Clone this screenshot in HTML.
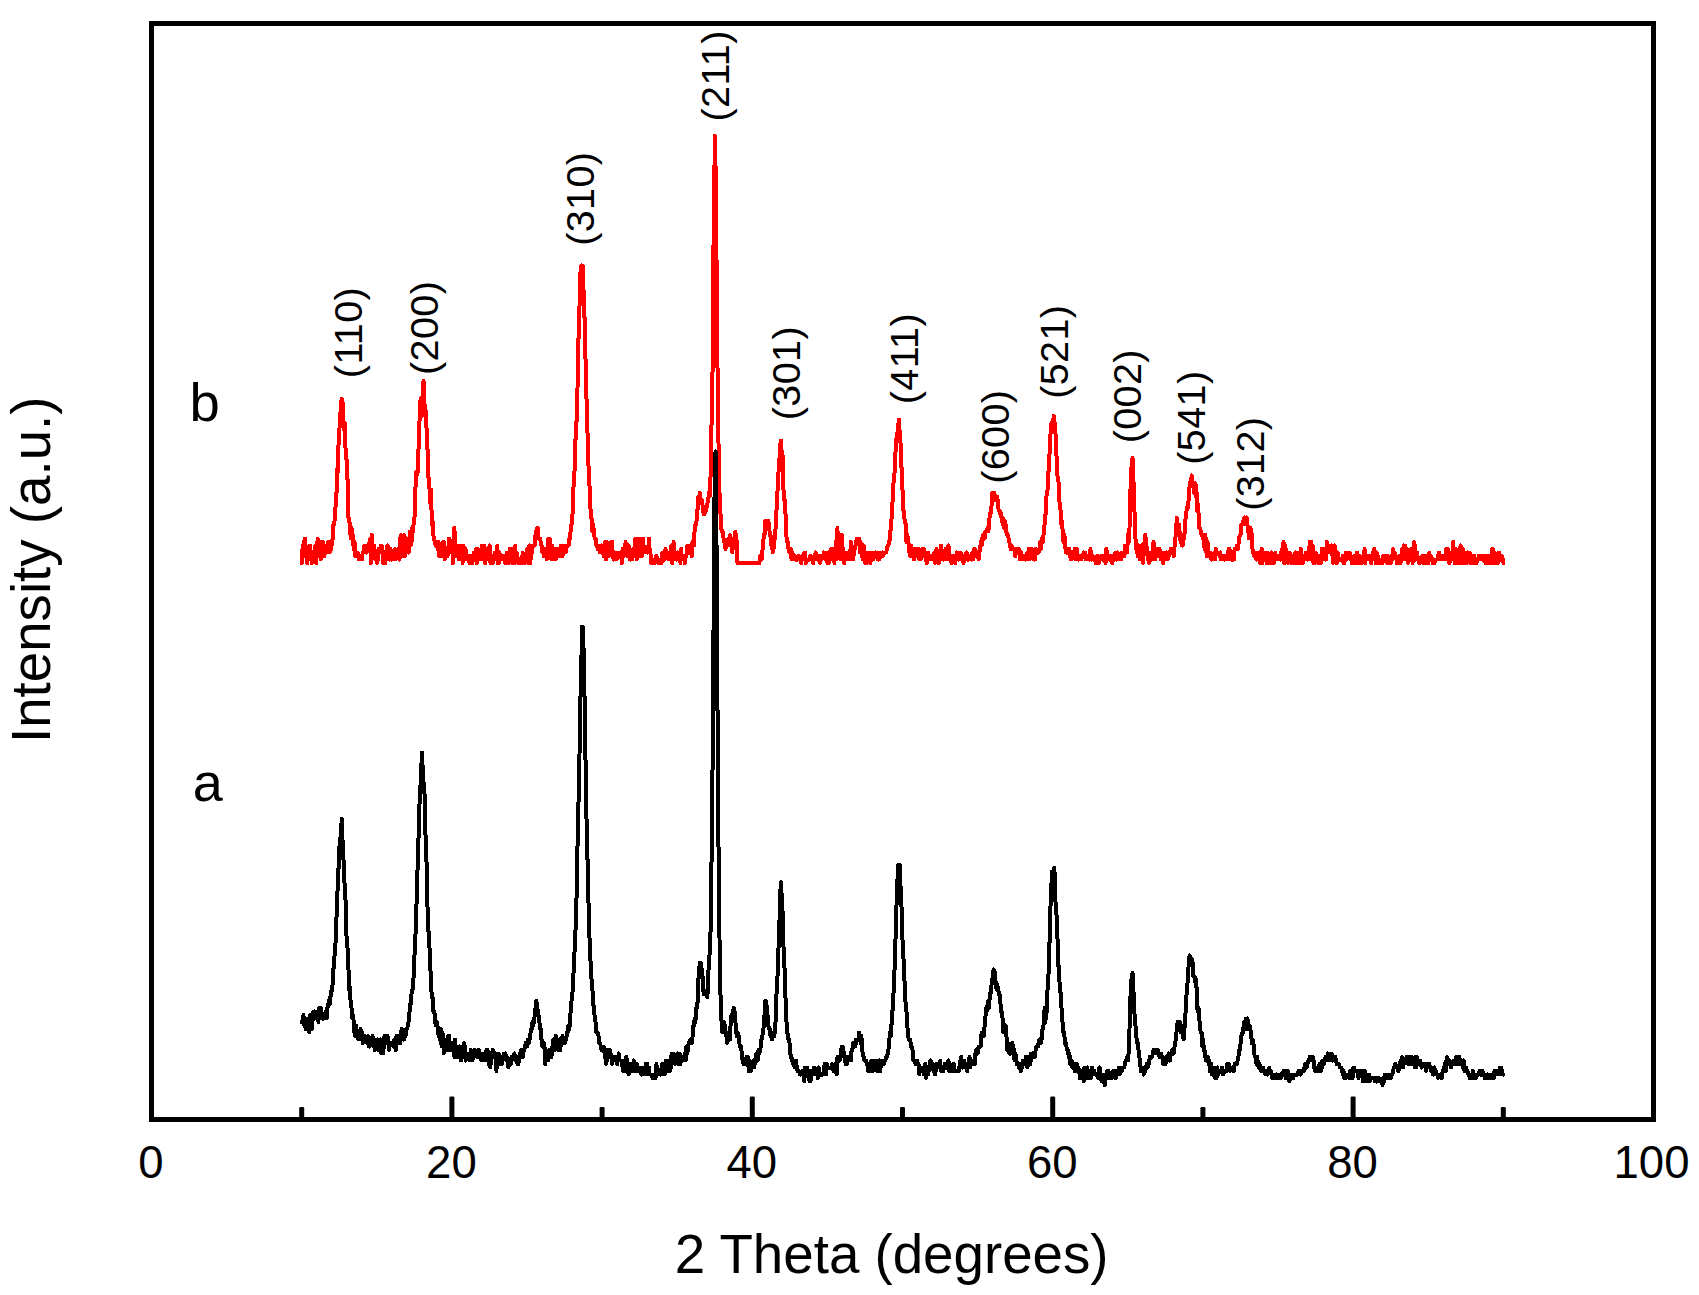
<!DOCTYPE html>
<html lang="en">
<head>
<meta charset="utf-8">
<title>XRD patterns</title>
<style>
html,body{margin:0;padding:0;background:#fff;}
body{width:1699px;height:1295px;overflow:hidden;}
svg{display:block;}
</style>
</head>
<body>
<svg width="1699" height="1295" viewBox="0 0 1699 1295">
<rect x="0" y="0" width="1699" height="1295" fill="#fff"/>
<g fill="none" stroke-linejoin="round" stroke-linecap="round" stroke-width="4" shape-rendering="crispEdges">
<path stroke="#ff0000" d="M301.9 563.0L302.7 545.5L303.4 556.0L304.2 542.0L304.9 538.5L305.7 549.0L306.4 549.0L307.2 563.0L307.9 556.0L308.7 552.5L309.4 545.5L310.2 545.5L310.9 556.0L311.7 563.0L312.4 559.5
L313.2 552.5L313.9 559.5L314.7 556.0L315.4 545.5L316.2 563.0L316.9 549.0L317.7 538.5L318.4 556.0L319.2 549.0L319.9 542.0L320.7 559.5L321.4 549.0L322.2 542.0L322.9 542.0L323.7 549.0
L324.4 556.0L325.2 545.5L325.9 552.5L326.7 549.0L327.4 552.5L328.2 542.0L328.9 545.5L329.7 552.5L330.4 549.0L331.2 549.0L331.9 542.0L332.7 538.5L333.4 524.5L334.2 524.5L334.9 517.5
L335.7 503.5L336.4 496.5L337.2 468.5L337.9 472.0L338.7 437.0L339.4 430.0L340.2 416.0L341.0 405.5L341.7 398.5L342.5 402.0L343.2 419.5L344.0 430.0L344.7 423.0L345.5 447.5L346.2 458.0
L347.0 461.5L347.7 486.0L348.5 517.5L349.2 521.0L350.0 524.5L350.7 538.5L351.5 528.0L352.2 531.5L353.0 538.5L353.7 549.0L354.5 542.0L355.2 556.0L356.0 552.5L356.7 552.5L357.5 552.5
L358.2 556.0L359.0 559.5L359.7 556.0L360.5 556.0L361.2 556.0L362.0 559.5L362.7 552.5L363.5 552.5L364.2 545.5L365.0 545.5L365.7 549.0L366.5 552.5L367.2 549.0L368.0 549.0L368.7 549.0
L369.5 542.0L370.2 538.5L371.0 563.0L371.7 535.0L372.5 556.0L373.2 552.5L374.0 545.5L374.7 552.5L375.5 559.5L376.2 552.5L377.0 563.0L377.8 559.5L378.5 549.0L379.3 552.5L380.0 549.0
L380.8 545.5L381.5 545.5L382.3 549.0L383.0 563.0L383.8 556.0L384.5 556.0L385.3 563.0L386.0 552.5L386.8 549.0L387.5 545.5L388.3 549.0L389.0 559.5L389.8 559.5L390.5 549.0L391.3 559.5
L392.0 559.5L392.8 552.5L393.5 559.5L394.3 552.5L395.0 549.0L395.8 559.5L396.5 556.0L397.3 552.5L398.0 549.0L398.8 556.0L399.5 559.5L400.3 538.5L401.0 535.0L401.8 556.0L402.5 549.0
L403.3 538.5L404.0 535.0L404.8 556.0L405.5 542.0L406.3 538.5L407.0 542.0L407.8 552.5L408.5 552.5L409.3 545.5L410.0 531.5L410.8 545.5L411.5 542.0L412.3 528.0L413.0 531.5L413.8 521.0
L414.5 517.5L415.3 493.0L416.1 472.0L416.8 475.5L417.6 472.0L418.3 454.5L419.1 433.5L419.8 412.5L420.6 398.5L421.3 412.5L422.1 416.0L422.8 384.5L423.6 381.0L424.3 405.5L425.1 405.5
L425.8 412.5L426.6 430.0L427.3 440.5L428.1 475.5L428.8 479.0L429.6 489.5L430.3 503.5L431.1 489.5L431.8 524.5L432.6 521.0L433.3 535.0L434.1 538.5L434.8 542.0L435.6 545.5L436.3 542.0
L437.1 545.5L437.8 549.0L438.6 542.0L439.3 556.0L440.1 556.0L440.8 549.0L441.6 549.0L442.3 556.0L443.1 542.0L443.8 542.0L444.6 559.5L445.3 552.5L446.1 556.0L446.8 549.0L447.6 556.0
L448.3 549.0L449.1 538.5L449.8 552.5L450.6 545.5L451.3 549.0L452.1 542.0L452.9 563.0L453.6 535.0L454.4 528.0L455.1 545.5L455.9 556.0L456.6 545.5L457.4 549.0L458.1 552.5L458.9 559.5
L459.6 545.5L460.4 545.5L461.1 552.5L461.9 549.0L462.6 563.0L463.4 545.5L464.1 549.0L464.9 552.5L465.6 549.0L466.4 559.5L467.1 556.0L467.9 559.5L468.6 556.0L469.4 563.0L470.1 556.0
L470.9 559.5L471.6 559.5L472.4 563.0L473.1 556.0L473.9 552.5L474.6 556.0L475.4 559.5L476.1 549.0L476.9 563.0L477.6 549.0L478.4 552.5L479.1 559.5L479.9 556.0L480.6 556.0L481.4 559.5
L482.1 545.5L482.9 556.0L483.6 545.5L484.4 545.5L485.1 563.0L485.9 549.0L486.6 559.5L487.4 549.0L488.1 552.5L488.9 552.5L489.6 545.5L490.4 563.0L491.2 556.0L491.9 559.5L492.7 563.0
L493.4 556.0L494.2 559.5L494.9 552.5L495.7 556.0L496.4 559.5L497.2 545.5L497.9 563.0L498.7 563.0L499.4 552.5L500.2 559.5L500.9 559.5L501.7 556.0L502.4 559.5L503.2 556.0L503.9 556.0
L504.7 559.5L505.4 563.0L506.2 559.5L506.9 552.5L507.7 556.0L508.4 563.0L509.2 559.5L509.9 549.0L510.7 559.5L511.4 549.0L512.2 563.0L512.9 549.0L513.7 556.0L514.4 563.0L515.2 545.5
L515.9 559.5L516.7 552.5L517.4 556.0L518.2 563.0L518.9 563.0L519.7 563.0L520.4 563.0L521.2 563.0L521.9 563.0L522.7 552.5L523.4 563.0L524.2 556.0L524.9 563.0L525.7 559.5L526.4 552.5
L527.2 549.0L528.0 556.0L528.7 563.0L529.5 545.5L530.2 563.0L531.0 556.0L531.7 552.5L532.5 545.5L533.2 545.5L534.0 545.5L534.7 545.5L535.5 535.0L536.2 531.5L537.0 528.0L537.7 528.0
L538.5 538.5L539.2 538.5L540.0 538.5L540.7 542.0L541.5 545.5L542.2 552.5L543.0 549.0L543.7 556.0L544.5 549.0L545.2 556.0L546.0 552.5L546.7 559.5L547.5 556.0L548.2 538.5L549.0 552.5
L549.7 538.5L550.5 549.0L551.2 559.5L552.0 545.5L552.7 559.5L553.5 549.0L554.2 559.5L555.0 549.0L555.7 559.5L556.5 556.0L557.2 549.0L558.0 556.0L558.7 552.5L559.5 549.0L560.2 556.0
L561.0 545.5L561.7 545.5L562.5 556.0L563.2 549.0L564.0 552.5L564.7 545.5L565.5 552.5L566.3 549.0L567.0 545.5L567.8 545.5L568.5 545.5L569.3 538.5L570.0 538.5L570.8 528.0L571.5 524.5
L572.3 521.0L573.0 496.5L573.8 482.5L574.5 472.0L575.3 440.5L576.0 437.0L576.8 412.5L577.5 388.0L578.3 346.0L579.0 321.5L579.8 297.0L580.5 272.5L581.3 265.5L582.0 272.5L582.8 265.5
L583.5 290.0L584.3 311.0L585.0 332.0L585.8 374.0L586.5 398.5L587.3 423.0L588.0 454.5L588.8 472.0L589.5 486.0L590.3 507.0L591.0 514.0L591.8 521.0L592.5 531.5L593.3 524.5L594.0 535.0
L594.8 538.5L595.5 538.5L596.3 545.5L597.0 545.5L597.8 549.0L598.5 545.5L599.3 545.5L600.0 552.5L600.8 549.0L601.5 545.5L602.3 549.0L603.1 552.5L603.8 556.0L604.6 552.5L605.3 542.0
L606.1 559.5L606.8 542.0L607.6 545.5L608.3 556.0L609.1 556.0L609.8 552.5L610.6 545.5L611.3 542.0L612.1 542.0L612.8 556.0L613.6 559.5L614.3 552.5L615.1 552.5L615.8 552.5L616.6 559.5
L617.3 556.0L618.1 552.5L618.8 552.5L619.6 556.0L620.3 556.0L621.1 552.5L621.8 563.0L622.6 549.0L623.3 556.0L624.1 556.0L624.8 552.5L625.6 542.0L626.3 549.0L627.1 556.0L627.8 556.0
L628.6 545.5L629.3 549.0L630.1 559.5L630.8 559.5L631.6 556.0L632.3 559.5L633.1 549.0L633.8 556.0L634.6 545.5L635.3 538.5L636.1 538.5L636.8 559.5L637.6 556.0L638.3 549.0L639.1 538.5
L639.8 549.0L640.6 556.0L641.4 552.5L642.1 556.0L642.9 538.5L643.6 545.5L644.4 552.5L645.1 549.0L645.9 552.5L646.6 549.0L647.4 552.5L648.1 552.5L648.9 538.5L649.6 549.0L650.4 552.5
L651.1 563.0L651.9 559.5L652.6 559.5L653.4 563.0L654.1 559.5L654.9 563.0L655.6 559.5L656.4 556.0L657.1 559.5L657.9 559.5L658.6 563.0L659.4 563.0L660.1 563.0L660.9 563.0L661.6 563.0
L662.4 552.5L663.1 552.5L663.9 559.5L664.6 559.5L665.4 549.0L666.1 552.5L666.9 556.0L667.6 556.0L668.4 559.5L669.1 552.5L669.9 552.5L670.6 556.0L671.4 545.5L672.1 563.0L672.9 549.0
L673.6 542.0L674.4 559.5L675.1 556.0L675.9 556.0L676.6 559.5L677.4 552.5L678.2 556.0L678.9 556.0L679.7 552.5L680.4 563.0L681.2 549.0L681.9 559.5L682.7 556.0L683.4 556.0L684.2 556.0
L684.9 563.0L685.7 556.0L686.4 556.0L687.2 545.5L687.9 545.5L688.7 552.5L689.4 545.5L690.2 545.5L690.9 552.5L691.7 556.0L692.4 542.0L693.2 545.5L693.9 545.5L694.7 528.0L695.4 524.5
L696.2 524.5L696.9 517.5L697.7 507.0L698.4 496.5L699.2 496.5L699.9 493.0L700.7 500.0L701.4 503.5L702.2 500.0L702.9 510.5L703.7 514.0L704.4 514.0L705.2 510.5L705.9 510.5L706.7 507.0
L707.4 503.5L708.2 500.0L708.9 493.0L709.7 496.5L710.4 482.5L711.2 444.0L711.9 402.0L712.7 363.5L713.4 255.0L714.2 188.5L714.9 136.0L715.7 174.5L716.5 258.5L717.2 346.0L718.0 402.0
L718.7 458.0L719.5 493.0L720.2 507.0L721.0 524.5L721.7 531.5L722.5 531.5L723.2 535.0L724.0 542.0L724.7 542.0L725.5 549.0L726.2 542.0L727.0 545.5L727.7 545.5L728.5 538.5L729.2 538.5
L730.0 535.0L730.7 545.5L731.5 538.5L732.2 552.5L733.0 545.5L733.7 545.5L734.5 542.0L735.2 531.5L736.0 535.0L736.7 542.0L737.5 563.0L738.2 563.0L739.0 563.0L739.7 563.0L740.5 563.0
L741.2 563.0L742.0 563.0L742.7 563.0L743.5 563.0L744.2 563.0L745.0 563.0L745.7 563.0L746.5 563.0L747.2 563.0L748.0 563.0L748.7 563.0L749.5 563.0L750.2 563.0L751.0 563.0L751.7 563.0
L752.5 563.0L753.3 563.0L754.0 563.0L754.8 563.0L755.5 563.0L756.3 563.0L757.0 563.0L757.8 563.0L758.5 563.0L759.3 563.0L760.0 556.0L760.8 556.0L761.5 559.5L762.3 552.5L763.0 545.5
L763.8 535.0L764.5 535.0L765.3 521.0L766.0 524.5L766.8 521.0L767.5 524.5L768.3 521.0L769.0 524.5L769.8 535.0L770.5 535.0L771.3 545.5L772.0 545.5L772.8 552.5L773.5 549.0L774.3 538.5
L775.0 538.5L775.8 524.5L776.5 510.5L777.3 496.5L778.0 479.0L778.8 468.5L779.5 458.0L780.3 444.0L781.0 440.5L781.8 454.5L782.5 454.5L783.3 486.0L784.0 500.0L784.8 500.0L785.5 514.0
L786.3 535.0L787.0 542.0L787.8 542.0L788.5 549.0L789.3 552.5L790.0 552.5L790.8 549.0L791.6 559.5L792.3 552.5L793.1 556.0L793.8 559.5L794.6 556.0L795.3 559.5L796.1 559.5L796.8 559.5
L797.6 559.5L798.3 556.0L799.1 556.0L799.8 559.5L800.6 559.5L801.3 563.0L802.1 556.0L802.8 559.5L803.6 556.0L804.3 552.5L805.1 552.5L805.8 563.0L806.6 559.5L807.3 559.5L808.1 559.5
L808.8 559.5L809.6 559.5L810.3 556.0L811.1 559.5L811.8 559.5L812.6 559.5L813.3 563.0L814.1 556.0L814.8 559.5L815.6 552.5L816.3 556.0L817.1 559.5L817.8 559.5L818.6 556.0L819.3 556.0
L820.1 563.0L820.8 556.0L821.6 559.5L822.3 556.0L823.1 556.0L823.8 552.5L824.6 556.0L825.3 552.5L826.1 559.5L826.8 559.5L827.6 563.0L828.4 552.5L829.1 563.0L829.9 556.0L830.6 556.0
L831.4 549.0L832.1 556.0L832.9 559.5L833.6 552.5L834.4 563.0L835.1 552.5L835.9 542.0L836.6 559.5L837.4 528.0L838.1 545.5L838.9 552.5L839.6 535.0L840.4 559.5L841.1 552.5L841.9 535.0
L842.6 559.5L843.4 549.0L844.1 563.0L844.9 552.5L845.6 552.5L846.4 559.5L847.1 556.0L847.9 552.5L848.6 552.5L849.4 559.5L850.1 556.0L850.9 542.0L851.6 556.0L852.4 549.0L853.1 559.5
L853.9 552.5L854.6 549.0L855.4 545.5L856.1 542.0L856.9 538.5L857.6 542.0L858.4 542.0L859.1 538.5L859.9 552.5L860.6 542.0L861.4 552.5L862.1 556.0L862.9 559.5L863.6 545.5L864.4 552.5
L865.1 563.0L865.9 552.5L866.7 563.0L867.4 559.5L868.2 552.5L868.9 552.5L869.7 559.5L870.4 563.0L871.2 552.5L871.9 552.5L872.7 556.0L873.4 559.5L874.2 556.0L874.9 556.0L875.7 552.5
L876.4 556.0L877.2 552.5L877.9 559.5L878.7 559.5L879.4 559.5L880.2 556.0L880.9 552.5L881.7 556.0L882.4 552.5L883.2 556.0L883.9 552.5L884.7 552.5L885.4 552.5L886.2 552.5L886.9 549.0
L887.7 545.5L888.4 545.5L889.2 542.0L889.9 538.5L890.7 528.0L891.4 521.0L892.2 507.0L892.9 496.5L893.7 479.0L894.4 475.5L895.2 461.5L895.9 440.5L896.7 437.0L897.4 433.5L898.2 426.5
L898.9 419.5L899.7 433.5L900.4 440.5L901.2 458.0L901.9 479.0L902.7 493.0L903.5 510.5L904.2 517.5L905.0 521.0L905.7 524.5L906.5 542.0L907.2 535.0L908.0 538.5L908.7 545.5L909.5 552.5
L910.2 556.0L911.0 545.5L911.7 549.0L912.5 552.5L913.2 556.0L914.0 559.5L914.7 549.0L915.5 549.0L916.2 549.0L917.0 552.5L917.7 556.0L918.5 549.0L919.2 559.5L920.0 552.5L920.7 559.5
L921.5 556.0L922.2 549.0L923.0 556.0L923.7 549.0L924.5 552.5L925.2 556.0L926.0 559.5L926.7 563.0L927.5 552.5L928.2 552.5L929.0 559.5L929.7 556.0L930.5 556.0L931.2 559.5L932.0 556.0
L932.7 556.0L933.5 559.5L934.2 552.5L935.0 563.0L935.7 552.5L936.5 549.0L937.2 559.5L938.0 563.0L938.7 563.0L939.5 559.5L940.2 559.5L941.0 545.5L941.8 556.0L942.5 552.5L943.3 559.5
L944.0 559.5L944.8 552.5L945.5 549.0L946.3 559.5L947.0 556.0L947.8 552.5L948.5 545.5L949.3 559.5L950.0 556.0L950.8 556.0L951.5 563.0L952.3 556.0L953.0 556.0L953.8 559.5L954.5 559.5
L955.3 563.0L956.0 556.0L956.8 552.5L957.5 556.0L958.3 559.5L959.0 559.5L959.8 552.5L960.5 552.5L961.3 559.5L962.0 559.5L962.8 559.5L963.5 563.0L964.3 556.0L965.0 559.5L965.8 559.5
L966.5 552.5L967.3 559.5L968.0 559.5L968.8 559.5L969.5 556.0L970.3 559.5L971.0 556.0L971.8 559.5L972.5 552.5L973.3 559.5L974.0 549.0L974.8 549.0L975.5 556.0L976.3 556.0L977.0 556.0
L977.8 552.5L978.6 559.5L979.3 552.5L980.1 549.0L980.8 542.0L981.6 545.5L982.3 538.5L983.1 535.0L983.8 538.5L984.6 538.5L985.3 531.5L986.1 531.5L986.8 531.5L987.6 528.0L988.3 531.5
L989.1 524.5L989.8 514.0L990.6 514.0L991.3 510.5L992.1 493.0L992.8 500.0L993.6 500.0L994.3 493.0L995.1 496.5L995.8 500.0L996.6 496.5L997.3 496.5L998.1 507.0L998.8 510.5L999.6 510.5
L1000.3 514.0L1001.1 514.0L1001.8 521.0L1002.6 517.5L1003.3 524.5L1004.1 528.0L1004.8 521.0L1005.6 524.5L1006.3 531.5L1007.1 535.0L1007.8 535.0L1008.6 538.5L1009.3 542.0
L1010.1 545.5L1010.8 549.0L1011.6 545.5L1012.3 549.0L1013.1 549.0L1013.8 549.0L1014.6 549.0L1015.3 556.0L1016.1 552.5L1016.9 549.0L1017.6 549.0L1018.4 552.5L1019.1 549.0
L1019.9 559.5L1020.6 556.0L1021.4 552.5L1022.1 559.5L1022.9 556.0L1023.6 556.0L1024.4 556.0L1025.1 559.5L1025.9 559.5L1026.6 556.0L1027.4 552.5L1028.1 556.0L1028.9 549.0
L1029.6 559.5L1030.4 552.5L1031.1 549.0L1031.9 549.0L1032.6 556.0L1033.4 556.0L1034.1 559.5L1034.9 559.5L1035.6 549.0L1036.4 552.5L1037.1 552.5L1037.9 552.5L1038.6 552.5
L1039.4 549.0L1040.1 542.0L1040.9 549.0L1041.6 538.5L1042.4 538.5L1043.1 542.0L1043.9 528.0L1044.6 524.5L1045.4 517.5L1046.1 500.0L1046.9 493.0L1047.6 489.5L1048.4 472.0
L1049.1 468.5L1049.9 440.5L1050.6 433.5L1051.4 423.0L1052.1 430.0L1052.9 426.5L1053.7 416.0L1054.4 426.5L1055.2 423.0L1055.9 447.5L1056.7 458.0L1057.4 475.5L1058.2 479.0
L1058.9 486.0L1059.7 507.0L1060.4 507.0L1061.2 524.5L1061.9 521.0L1062.7 531.5L1063.4 542.0L1064.2 535.0L1064.9 538.5L1065.7 552.5L1066.4 552.5L1067.2 552.5L1067.9 552.5
L1068.7 549.0L1069.4 549.0L1070.2 556.0L1070.9 559.5L1071.7 552.5L1072.4 556.0L1073.2 556.0L1073.9 556.0L1074.7 549.0L1075.4 559.5L1076.2 556.0L1076.9 549.0L1077.7 559.5
L1078.4 559.5L1079.2 559.5L1079.9 556.0L1080.7 559.5L1081.4 559.5L1082.2 556.0L1082.9 556.0L1083.7 552.5L1084.4 556.0L1085.2 552.5L1085.9 559.5L1086.7 556.0L1087.4 556.0
L1088.2 556.0L1088.9 559.5L1089.7 559.5L1090.4 549.0L1091.2 559.5L1092.0 559.5L1092.7 556.0L1093.5 559.5L1094.2 559.5L1095.0 559.5L1095.7 563.0L1096.5 563.0L1097.2 556.0
L1098.0 559.5L1098.7 563.0L1099.5 559.5L1100.2 559.5L1101.0 556.0L1101.7 559.5L1102.5 559.5L1103.2 556.0L1104.0 559.5L1104.7 556.0L1105.5 563.0L1106.2 549.0L1107.0 552.5
L1107.7 556.0L1108.5 556.0L1109.2 559.5L1110.0 559.5L1110.7 556.0L1111.5 556.0L1112.2 563.0L1113.0 559.5L1113.7 556.0L1114.5 559.5L1115.2 552.5L1116.0 556.0L1116.7 559.5
L1117.5 552.5L1118.2 559.5L1119.0 556.0L1119.7 556.0L1120.5 556.0L1121.2 559.5L1122.0 552.5L1122.7 552.5L1123.5 556.0L1124.2 556.0L1125.0 545.5L1125.7 549.0L1126.5 552.5
L1127.2 552.5L1128.0 535.0L1128.8 542.0L1129.5 528.0L1130.3 496.5L1131.0 472.0L1131.8 465.0L1132.5 458.0L1133.3 475.5L1134.0 496.5L1134.8 521.0L1135.5 538.5L1136.3 549.0
L1137.0 549.0L1137.8 556.0L1138.5 545.5L1139.3 552.5L1140.0 559.5L1140.8 549.0L1141.5 545.5L1142.3 552.5L1143.0 563.0L1143.8 545.5L1144.5 542.0L1145.3 535.0L1146.0 542.0
L1146.8 549.0L1147.5 556.0L1148.3 559.5L1149.0 563.0L1149.8 552.5L1150.5 556.0L1151.3 559.5L1152.0 559.5L1152.8 556.0L1153.5 542.0L1154.3 556.0L1155.0 559.5L1155.8 556.0
L1156.5 556.0L1157.3 549.0L1158.0 552.5L1158.8 556.0L1159.5 549.0L1160.3 552.5L1161.0 559.5L1161.8 559.5L1162.5 556.0L1163.3 563.0L1164.0 552.5L1164.8 552.5L1165.5 559.5
L1166.3 552.5L1167.1 556.0L1167.8 559.5L1168.6 556.0L1169.3 552.5L1170.1 552.5L1170.8 549.0L1171.6 549.0L1172.3 552.5L1173.1 552.5L1173.8 556.0L1174.6 545.5L1175.3 538.5
L1176.1 531.5L1176.8 517.5L1177.6 524.5L1178.3 528.0L1179.1 524.5L1179.8 535.0L1180.6 542.0L1181.3 538.5L1182.1 545.5L1182.8 545.5L1183.6 535.0L1184.3 538.5L1185.1 521.0
L1185.8 517.5L1186.6 510.5L1187.3 507.0L1188.1 507.0L1188.8 496.5L1189.6 486.0L1190.3 482.5L1191.1 479.0L1191.8 475.5L1192.6 482.5L1193.3 486.0L1194.1 493.0L1194.8 482.5
L1195.6 496.5L1196.3 486.0L1197.1 510.5L1197.8 503.5L1198.6 514.0L1199.3 528.0L1200.1 528.0L1200.8 531.5L1201.6 535.0L1202.3 535.0L1203.1 538.5L1203.9 538.5L1204.6 549.0
L1205.4 535.0L1206.1 549.0L1206.9 556.0L1207.6 542.0L1208.4 556.0L1209.1 556.0L1209.9 552.5L1210.6 552.5L1211.4 559.5L1212.1 559.5L1212.9 556.0L1213.6 556.0L1214.4 552.5
L1215.1 559.5L1215.9 549.0L1216.6 552.5L1217.4 552.5L1218.1 552.5L1218.9 552.5L1219.6 556.0L1220.4 552.5L1221.1 559.5L1221.9 556.0L1222.6 556.0L1223.4 556.0L1224.1 559.5
L1224.9 559.5L1225.6 556.0L1226.4 556.0L1227.1 559.5L1227.9 556.0L1228.6 549.0L1229.4 549.0L1230.1 552.5L1230.9 559.5L1231.6 559.5L1232.4 559.5L1233.1 559.5L1233.9 559.5
L1234.6 549.0L1235.4 549.0L1236.1 549.0L1236.9 545.5L1237.6 549.0L1238.4 545.5L1239.1 538.5L1239.9 535.0L1240.6 535.0L1241.4 524.5L1242.2 524.5L1242.9 521.0L1243.7 521.0
L1244.4 517.5L1245.2 524.5L1245.9 521.0L1246.7 517.5L1247.4 524.5L1248.2 528.0L1248.9 538.5L1249.7 535.0L1250.4 528.0L1251.2 531.5L1251.9 535.0L1252.7 552.5L1253.4 552.5
L1254.2 556.0L1254.9 552.5L1255.7 556.0L1256.4 559.5L1257.2 559.5L1257.9 552.5L1258.7 556.0L1259.4 552.5L1260.2 563.0L1260.9 563.0L1261.7 549.0L1262.4 563.0L1263.2 552.5
L1263.9 552.5L1264.7 559.5L1265.4 559.5L1266.2 552.5L1266.9 563.0L1267.7 552.5L1268.4 563.0L1269.2 563.0L1269.9 556.0L1270.7 563.0L1271.4 552.5L1272.2 559.5L1272.9 563.0
L1273.7 563.0L1274.4 559.5L1275.2 552.5L1275.9 559.5L1276.7 556.0L1277.4 556.0L1278.2 556.0L1279.0 556.0L1279.7 559.5L1280.5 559.5L1281.2 552.5L1282.0 549.0L1282.7 556.0
L1283.5 542.0L1284.2 563.0L1285.0 545.5L1285.7 549.0L1286.5 556.0L1287.2 552.5L1288.0 563.0L1288.7 552.5L1289.5 552.5L1290.2 556.0L1291.0 556.0L1291.7 563.0L1292.5 556.0
L1293.2 559.5L1294.0 556.0L1294.7 563.0L1295.5 552.5L1296.2 559.5L1297.0 552.5L1297.7 563.0L1298.5 563.0L1299.2 563.0L1300.0 559.5L1300.7 549.0L1301.5 563.0L1302.2 556.0
L1303.0 563.0L1303.7 556.0L1304.5 559.5L1305.2 559.5L1306.0 552.5L1306.7 556.0L1307.5 559.5L1308.2 552.5L1309.0 559.5L1309.7 542.0L1310.5 556.0L1311.2 542.0L1312.0 559.5
L1312.7 545.5L1313.5 563.0L1314.2 563.0L1315.0 563.0L1315.7 552.5L1316.5 559.5L1317.3 559.5L1318.0 556.0L1318.8 563.0L1319.5 556.0L1320.3 559.5L1321.0 563.0L1321.8 549.0
L1322.5 559.5L1323.3 559.5L1324.0 552.5L1324.8 549.0L1325.5 559.5L1326.3 559.5L1327.0 542.0L1327.8 552.5L1328.5 549.0L1329.3 552.5L1330.0 545.5L1330.8 552.5L1331.5 545.5
L1332.3 552.5L1333.0 563.0L1333.8 552.5L1334.5 545.5L1335.3 552.5L1336.0 556.0L1336.8 563.0L1337.5 552.5L1338.3 556.0L1339.0 559.5L1339.8 559.5L1340.5 559.5L1341.3 559.5
L1342.0 559.5L1342.8 556.0L1343.5 563.0L1344.3 563.0L1345.0 559.5L1345.8 552.5L1346.5 559.5L1347.3 556.0L1348.0 552.5L1348.8 552.5L1349.5 552.5L1350.3 556.0L1351.0 556.0
L1351.8 563.0L1352.5 563.0L1353.3 563.0L1354.1 563.0L1354.8 556.0L1355.6 556.0L1356.3 563.0L1357.1 552.5L1357.8 559.5L1358.6 559.5L1359.3 563.0L1360.1 556.0L1360.8 563.0
L1361.6 563.0L1362.3 559.5L1363.1 559.5L1363.8 556.0L1364.6 549.0L1365.3 563.0L1366.1 556.0L1366.8 559.5L1367.6 556.0L1368.3 559.5L1369.1 556.0L1369.8 556.0L1370.6 556.0
L1371.3 563.0L1372.1 556.0L1372.8 552.5L1373.6 552.5L1374.3 549.0L1375.1 556.0L1375.8 563.0L1376.6 552.5L1377.3 559.5L1378.1 556.0L1378.8 563.0L1379.6 559.5L1380.3 559.5
L1381.1 563.0L1381.8 559.5L1382.6 563.0L1383.3 556.0L1384.1 556.0L1384.8 556.0L1385.6 559.5L1386.3 556.0L1387.1 563.0L1387.8 556.0L1388.6 563.0L1389.3 559.5L1390.1 563.0
L1390.8 563.0L1391.6 556.0L1392.4 559.5L1393.1 549.0L1393.9 552.5L1394.6 552.5L1395.4 556.0L1396.1 556.0L1396.9 563.0L1397.6 559.5L1398.4 563.0L1399.1 563.0L1399.9 556.0
L1400.6 563.0L1401.4 556.0L1402.1 549.0L1402.9 559.5L1403.6 545.5L1404.4 549.0L1405.1 545.5L1405.9 559.5L1406.6 549.0L1407.4 552.5L1408.1 563.0L1408.9 552.5L1409.6 556.0
L1410.4 559.5L1411.1 549.0L1411.9 552.5L1412.6 563.0L1413.4 549.0L1414.1 542.0L1414.9 545.5L1415.6 559.5L1416.4 556.0L1417.1 552.5L1417.9 559.5L1418.6 559.5L1419.4 563.0
L1420.1 563.0L1420.9 559.5L1421.6 559.5L1422.4 556.0L1423.1 556.0L1423.9 563.0L1424.6 559.5L1425.4 556.0L1426.1 556.0L1426.9 563.0L1427.6 556.0L1428.4 563.0L1429.2 552.5
L1429.9 559.5L1430.7 556.0L1431.4 559.5L1432.2 559.5L1432.9 563.0L1433.7 559.5L1434.4 563.0L1435.2 559.5L1435.9 559.5L1436.7 559.5L1437.4 559.5L1438.2 556.0L1438.9 552.5
L1439.7 559.5L1440.4 559.5L1441.2 556.0L1441.9 556.0L1442.7 559.5L1443.4 559.5L1444.2 556.0L1444.9 559.5L1445.7 552.5L1446.4 549.0L1447.2 552.5L1447.9 549.0L1448.7 559.5
L1449.4 563.0L1450.2 559.5L1450.9 552.5L1451.7 559.5L1452.4 559.5L1453.2 542.0L1453.9 556.0L1454.7 563.0L1455.4 552.5L1456.2 549.0L1456.9 556.0L1457.7 563.0L1458.4 556.0
L1459.2 563.0L1459.9 549.0L1460.7 545.5L1461.4 563.0L1462.2 552.5L1462.9 549.0L1463.7 552.5L1464.4 563.0L1465.2 563.0L1465.9 559.5L1466.7 563.0L1467.5 552.5L1468.2 556.0
L1469.0 559.5L1469.7 552.5L1470.5 563.0L1471.2 556.0L1472.0 559.5L1472.7 563.0L1473.5 556.0L1474.2 556.0L1475.0 563.0L1475.7 563.0L1476.5 563.0L1477.2 559.5L1478.0 559.5
L1478.7 556.0L1479.5 556.0L1480.2 556.0L1481.0 559.5L1481.7 556.0L1482.5 559.5L1483.2 556.0L1484.0 559.5L1484.7 559.5L1485.5 563.0L1486.2 556.0L1487.0 556.0L1487.7 556.0
L1488.5 563.0L1489.2 563.0L1490.0 559.5L1490.7 556.0L1491.5 563.0L1492.2 549.0L1493.0 549.0L1493.7 563.0L1494.5 552.5L1495.2 559.5L1496.0 563.0L1496.7 563.0L1497.5 559.5
L1498.2 563.0L1499.0 552.5L1499.7 559.5L1500.5 559.5L1501.2 556.0L1502.0 556.0L1502.7 559.5L1503.5 563.0"/>
<path stroke="#000000" d="M301.9 1022.0L302.7 1022.0L303.4 1015.0L304.2 1025.5L304.9 1025.5L305.7 1029.0L306.4 1025.5L307.2 1018.5L307.9 1025.5L308.7 1022.0L309.4 1032.5L310.2 1015.0L310.9 1029.0
L311.7 1029.0L312.4 1022.0L313.2 1011.5L313.9 1015.0L314.7 1011.5L315.4 1015.0L316.2 1018.5L316.9 1018.5L317.7 1011.5L318.4 1022.0L319.2 1008.0L319.9 1008.0L320.7 1008.0
L321.4 1011.5L322.2 1018.5L322.9 1018.5L323.7 1018.5L324.4 1018.5L325.2 1015.0L325.9 1011.5L326.7 1018.5L327.4 1008.0L328.2 1004.5L328.9 1001.0L329.7 1004.5L330.4 997.5L331.2 990.5
L331.9 990.5L332.7 983.5L333.4 969.5L334.2 962.5L334.9 948.5L335.7 941.5L336.4 920.5L337.2 899.5L337.9 882.0L338.7 864.5L339.4 847.0L340.2 840.0L341.0 833.0L341.7 819.0L342.5 840.0
L343.2 850.5L344.0 875.0L344.7 885.5L345.5 899.5L346.2 934.5L347.0 938.0L347.7 952.0L348.5 969.5L349.2 990.5L350.0 987.0L350.7 1004.5L351.5 1008.0L352.2 1018.5L353.0 1015.0
L353.7 1022.0L354.5 1032.5L355.2 1036.0L356.0 1025.5L356.7 1032.5L357.5 1032.5L358.2 1039.5L359.0 1036.0L359.7 1032.5L360.5 1029.0L361.2 1039.5L362.0 1032.5L362.7 1043.0
L363.5 1039.5L364.2 1036.0L365.0 1036.0L365.7 1039.5L366.5 1039.5L367.2 1043.0L368.0 1036.0L368.7 1046.5L369.5 1046.5L370.2 1039.5L371.0 1043.0L371.7 1043.0L372.5 1036.0
L373.2 1046.5L374.0 1039.5L374.7 1050.0L375.5 1043.0L376.2 1046.5L377.0 1043.0L377.8 1039.5L378.5 1050.0L379.3 1050.0L380.0 1043.0L380.8 1039.5L381.5 1053.5L382.3 1043.0
L383.0 1053.5L383.8 1046.5L384.5 1036.0L385.3 1039.5L386.0 1039.5L386.8 1043.0L387.5 1036.0L388.3 1039.5L389.0 1050.0L389.8 1043.0L390.5 1043.0L391.3 1043.0L392.0 1043.0
L392.8 1043.0L393.5 1046.5L394.3 1039.5L395.0 1043.0L395.8 1050.0L396.5 1036.0L397.3 1036.0L398.0 1036.0L398.8 1043.0L399.5 1039.5L400.3 1043.0L401.0 1032.5L401.8 1029.0
L402.5 1036.0L403.3 1039.5L404.0 1039.5L404.8 1036.0L405.5 1036.0L406.3 1029.0L407.0 1029.0L407.8 1025.5L408.5 1022.0L409.3 1015.0L410.0 1004.5L410.8 1004.5L411.5 994.0L412.3 990.5
L413.0 987.0L413.8 973.0L414.5 955.5L415.3 938.0L416.1 924.0L416.8 889.0L417.6 868.0L418.3 847.0L419.1 812.0L419.8 798.0L420.6 784.0L421.3 766.5L422.1 752.5L422.8 773.5L423.6 784.0
L424.3 784.0L425.1 822.5L425.8 843.5L426.6 864.5L427.3 903.0L428.1 917.0L428.8 941.5L429.6 948.5L430.3 966.0L431.1 983.5L431.8 997.5L432.6 997.5L433.3 1011.5L434.1 1011.5
L434.8 1015.0L435.6 1025.5L436.3 1025.5L437.1 1022.0L437.8 1029.0L438.6 1036.0L439.3 1029.0L440.1 1039.5L440.8 1029.0L441.6 1046.5L442.3 1032.5L443.1 1036.0L443.8 1053.5
L444.6 1039.5L445.3 1046.5L446.1 1039.5L446.8 1043.0L447.6 1050.0L448.3 1036.0L449.1 1036.0L449.8 1046.5L450.6 1050.0L451.3 1043.0L452.1 1050.0L452.9 1046.5L453.6 1050.0
L454.4 1057.0L455.1 1039.5L455.9 1050.0L456.6 1057.0L457.4 1057.0L458.1 1050.0L458.9 1057.0L459.6 1046.5L460.4 1057.0L461.1 1060.5L461.9 1057.0L462.6 1046.5L463.4 1046.5
L464.1 1043.0L464.9 1046.5L465.6 1060.5L466.4 1053.5L467.1 1053.5L467.9 1053.5L468.6 1053.5L469.4 1057.0L470.1 1060.5L470.9 1050.0L471.6 1053.5L472.4 1060.5L473.1 1057.0
L473.9 1057.0L474.6 1050.0L475.4 1053.5L476.1 1053.5L476.9 1057.0L477.6 1057.0L478.4 1050.0L479.1 1050.0L479.9 1057.0L480.6 1057.0L481.4 1060.5L482.1 1053.5L482.9 1057.0
L483.6 1057.0L484.4 1057.0L485.1 1060.5L485.9 1053.5L486.6 1050.0L487.4 1050.0L488.1 1053.5L488.9 1064.0L489.6 1057.0L490.4 1067.5L491.2 1053.5L491.9 1053.5L492.7 1050.0
L493.4 1053.5L494.2 1053.5L494.9 1057.0L495.7 1053.5L496.4 1071.0L497.2 1057.0L497.9 1053.5L498.7 1053.5L499.4 1064.0L500.2 1060.5L500.9 1057.0L501.7 1064.0L502.4 1060.5
L503.2 1057.0L503.9 1053.5L504.7 1057.0L505.4 1053.5L506.2 1060.5L506.9 1057.0L507.7 1064.0L508.4 1067.5L509.2 1060.5L509.9 1060.5L510.7 1064.0L511.4 1057.0L512.2 1057.0
L512.9 1057.0L513.7 1057.0L514.4 1053.5L515.2 1060.5L515.9 1057.0L516.7 1057.0L517.4 1064.0L518.2 1064.0L518.9 1060.5L519.7 1053.5L520.4 1057.0L521.2 1050.0L521.9 1057.0
L522.7 1057.0L523.4 1050.0L524.2 1050.0L524.9 1046.5L525.7 1043.0L526.4 1046.5L527.2 1046.5L528.0 1039.5L528.7 1043.0L529.5 1039.5L530.2 1036.0L531.0 1029.0L531.7 1029.0
L532.5 1022.0L533.2 1025.5L534.0 1022.0L534.7 1015.0L535.5 1008.0L536.2 1001.0L537.0 1004.5L537.7 1011.5L538.5 1015.0L539.2 1018.5L540.0 1029.0L540.7 1029.0L541.5 1039.5
L542.2 1046.5L543.0 1046.5L543.7 1043.0L544.5 1046.5L545.2 1064.0L546.0 1057.0L546.7 1057.0L547.5 1057.0L548.2 1060.5L549.0 1050.0L549.7 1057.0L550.5 1050.0L551.2 1057.0
L552.0 1053.5L552.7 1043.0L553.5 1039.5L554.2 1046.5L555.0 1050.0L555.7 1036.0L556.5 1039.5L557.2 1046.5L558.0 1050.0L558.7 1046.5L559.5 1039.5L560.2 1050.0L561.0 1043.0
L561.7 1039.5L562.5 1036.0L563.2 1039.5L564.0 1043.0L564.7 1043.0L565.5 1039.5L566.3 1039.5L567.0 1032.5L567.8 1032.5L568.5 1025.5L569.3 1029.0L570.0 1022.0L570.8 1008.0
L571.5 1001.0L572.3 997.5L573.0 980.0L573.8 969.5L574.5 952.0L575.3 934.5L576.0 920.5L576.8 885.5L577.5 847.0L578.3 815.5L579.0 773.5L579.8 742.0L580.5 696.5L581.3 668.5
L582.0 626.5L582.8 626.5L583.5 647.5L584.3 682.5L585.0 728.0L585.8 777.0L586.5 819.0L587.3 843.5L588.0 896.0L588.8 906.5L589.5 938.0L590.3 959.0L591.0 966.0L591.8 987.0L592.5 990.5
L593.3 1004.5L594.0 1008.0L594.8 1018.5L595.5 1022.0L596.3 1032.5L597.0 1032.5L597.8 1032.5L598.5 1036.0L599.3 1043.0L600.0 1043.0L600.8 1046.5L601.5 1050.0L602.3 1046.5
L603.1 1046.5L603.8 1046.5L604.6 1053.5L605.3 1057.0L606.1 1064.0L606.8 1060.5L607.6 1050.0L608.3 1053.5L609.1 1050.0L609.8 1050.0L610.6 1053.5L611.3 1057.0L612.1 1064.0
L612.8 1057.0L613.6 1060.5L614.3 1057.0L615.1 1060.5L615.8 1060.5L616.6 1060.5L617.3 1064.0L618.1 1057.0L618.8 1053.5L619.6 1060.5L620.3 1060.5L621.1 1060.5L621.8 1060.5
L622.6 1067.5L623.3 1071.0L624.1 1071.0L624.8 1060.5L625.6 1060.5L626.3 1057.0L627.1 1060.5L627.8 1064.0L628.6 1074.5L629.3 1064.0L630.1 1064.0L630.8 1071.0L631.6 1071.0
L632.3 1071.0L633.1 1064.0L633.8 1060.5L634.6 1064.0L635.3 1071.0L636.1 1064.0L636.8 1064.0L637.6 1071.0L638.3 1067.5L639.1 1067.5L639.8 1067.5L640.6 1071.0L641.4 1074.5
L642.1 1074.5L642.9 1067.5L643.6 1071.0L644.4 1074.5L645.1 1071.0L645.9 1064.0L646.6 1064.0L647.4 1064.0L648.1 1074.5L648.9 1067.5L649.6 1074.5L650.4 1074.5L651.1 1074.5
L651.9 1074.5L652.6 1078.0L653.4 1074.5L654.1 1074.5L654.9 1074.5L655.6 1078.0L656.4 1064.0L657.1 1071.0L657.9 1071.0L658.6 1071.0L659.4 1071.0L660.1 1074.5L660.9 1074.5
L661.6 1067.5L662.4 1064.0L663.1 1074.5L663.9 1064.0L664.6 1074.5L665.4 1067.5L666.1 1060.5L666.9 1060.5L667.6 1060.5L668.4 1071.0L669.1 1067.5L669.9 1071.0L670.6 1057.0
L671.4 1067.5L672.1 1053.5L672.9 1053.5L673.6 1053.5L674.4 1057.0L675.1 1064.0L675.9 1057.0L676.6 1057.0L677.4 1053.5L678.2 1060.5L678.9 1064.0L679.7 1053.5L680.4 1064.0
L681.2 1057.0L681.9 1057.0L682.7 1060.5L683.4 1060.5L684.2 1057.0L684.9 1053.5L685.7 1060.5L686.4 1046.5L687.2 1053.5L687.9 1050.0L688.7 1043.0L689.4 1043.0L690.2 1039.5
L690.9 1039.5L691.7 1043.0L692.4 1039.5L693.2 1025.5L693.9 1025.5L694.7 1018.5L695.4 1022.0L696.2 1008.0L696.9 1008.0L697.7 1001.0L698.4 980.0L699.2 969.5L699.9 962.5L700.7 962.5
L701.4 969.5L702.2 969.5L702.9 983.5L703.7 994.0L704.4 994.0L705.2 990.5L705.9 990.5L706.7 990.5L707.4 997.5L708.2 973.0L708.9 966.0L709.7 952.0L710.4 938.0L711.2 899.5L711.9 819.0
L712.7 756.0L713.4 647.5L714.2 532.0L714.9 455.0L715.7 451.5L716.5 542.5L717.2 661.5L718.0 787.5L718.7 868.0L719.5 938.0L720.2 987.0L721.0 1008.0L721.7 1025.5L722.5 1032.5
L723.2 1029.0L724.0 1022.0L724.7 1025.5L725.5 1032.5L726.2 1032.5L727.0 1043.0L727.7 1039.5L728.5 1036.0L729.2 1039.5L730.0 1039.5L730.7 1022.0L731.5 1015.0L732.2 1018.5
L733.0 1011.5L733.7 1008.0L734.5 1011.5L735.2 1018.5L736.0 1029.0L736.7 1036.0L737.5 1032.5L738.2 1036.0L739.0 1036.0L739.7 1046.5L740.5 1046.5L741.2 1046.5L742.0 1057.0
L742.7 1060.5L743.5 1064.0L744.2 1064.0L745.0 1064.0L745.7 1060.5L746.5 1057.0L747.2 1060.5L748.0 1057.0L748.7 1071.0L749.5 1060.5L750.2 1064.0L751.0 1071.0L751.7 1064.0
L752.5 1067.5L753.3 1060.5L754.0 1067.5L754.8 1064.0L755.5 1060.5L756.3 1053.5L757.0 1060.5L757.8 1060.5L758.5 1050.0L759.3 1053.5L760.0 1050.0L760.8 1046.5L761.5 1039.5
L762.3 1036.0L763.0 1032.5L763.8 1025.5L764.5 1015.0L765.3 1001.0L766.0 1001.0L766.8 1008.0L767.5 1015.0L768.3 1025.5L769.0 1029.0L769.8 1029.0L770.5 1036.0L771.3 1032.5
L772.0 1039.5L772.8 1032.5L773.5 1032.5L774.3 1036.0L775.0 1029.0L775.8 1018.5L776.5 994.0L777.3 980.0L778.0 966.0L778.8 938.0L779.5 920.5L780.3 892.5L781.0 882.0L781.8 899.5
L782.5 910.0L783.3 941.5L784.0 959.0L784.8 973.0L785.5 997.5L786.3 1018.5L787.0 1029.0L787.8 1036.0L788.5 1039.5L789.3 1039.5L790.0 1050.0L790.8 1057.0L791.6 1057.0L792.3 1060.5
L793.1 1064.0L793.8 1060.5L794.6 1067.5L795.3 1060.5L796.1 1060.5L796.8 1067.5L797.6 1071.0L798.3 1071.0L799.1 1071.0L799.8 1074.5L800.6 1074.5L801.3 1074.5L802.1 1071.0
L802.8 1071.0L803.6 1074.5L804.3 1081.5L805.1 1067.5L805.8 1074.5L806.6 1071.0L807.3 1067.5L808.1 1074.5L808.8 1071.0L809.6 1081.5L810.3 1081.5L811.1 1078.0L811.8 1071.0
L812.6 1071.0L813.3 1074.5L814.1 1067.5L814.8 1067.5L815.6 1071.0L816.3 1074.5L817.1 1071.0L817.8 1078.0L818.6 1067.5L819.3 1074.5L820.1 1074.5L820.8 1074.5L821.6 1074.5
L822.3 1074.5L823.1 1074.5L823.8 1071.0L824.6 1064.0L825.3 1071.0L826.1 1074.5L826.8 1064.0L827.6 1067.5L828.4 1067.5L829.1 1067.5L829.9 1067.5L830.6 1067.5L831.4 1067.5
L832.1 1064.0L832.9 1067.5L833.6 1071.0L834.4 1067.5L835.1 1064.0L835.9 1067.5L836.6 1074.5L837.4 1057.0L838.1 1060.5L838.9 1060.5L839.6 1060.5L840.4 1057.0L841.1 1050.0
L841.9 1046.5L842.6 1046.5L843.4 1050.0L844.1 1057.0L844.9 1057.0L845.6 1064.0L846.4 1064.0L847.1 1064.0L847.9 1057.0L848.6 1060.5L849.4 1057.0L850.1 1057.0L850.9 1060.5
L851.6 1050.0L852.4 1050.0L853.1 1043.0L853.9 1046.5L854.6 1046.5L855.4 1046.5L856.1 1039.5L856.9 1039.5L857.6 1039.5L858.4 1039.5L859.1 1032.5L859.9 1036.0L860.6 1043.0
L861.4 1036.0L862.1 1050.0L862.9 1053.5L863.6 1057.0L864.4 1060.5L865.1 1060.5L865.9 1060.5L866.7 1064.0L867.4 1064.0L868.2 1071.0L868.9 1064.0L869.7 1064.0L870.4 1067.5
L871.2 1060.5L871.9 1071.0L872.7 1071.0L873.4 1064.0L874.2 1060.5L874.9 1067.5L875.7 1067.5L876.4 1064.0L877.2 1071.0L877.9 1060.5L878.7 1067.5L879.4 1060.5L880.2 1071.0
L880.9 1064.0L881.7 1060.5L882.4 1060.5L883.2 1064.0L883.9 1064.0L884.7 1060.5L885.4 1060.5L886.2 1057.0L886.9 1057.0L887.7 1053.5L888.4 1050.0L889.2 1043.0L889.9 1032.5
L890.7 1036.0L891.4 1025.5L892.2 1018.5L892.9 1001.0L893.7 990.5L894.4 973.0L895.2 952.0L895.9 924.0L896.7 899.5L897.4 882.0L898.2 864.5L898.9 864.5L899.7 864.5L900.4 885.5
L901.2 892.5L901.9 924.0L902.7 945.0L903.5 959.0L904.2 973.0L905.0 994.0L905.7 1004.5L906.5 1011.5L907.2 1025.5L908.0 1032.5L908.7 1039.5L909.5 1039.5L910.2 1039.5L911.0 1046.5
L911.7 1046.5L912.5 1050.0L913.2 1060.5L914.0 1060.5L914.7 1060.5L915.5 1064.0L916.2 1064.0L917.0 1060.5L917.7 1064.0L918.5 1064.0L919.2 1074.5L920.0 1067.5L920.7 1067.5
L921.5 1067.5L922.2 1067.5L923.0 1067.5L923.7 1074.5L924.5 1071.0L925.2 1064.0L926.0 1078.0L926.7 1074.5L927.5 1067.5L928.2 1074.5L929.0 1067.5L929.7 1064.0L930.5 1060.5
L931.2 1067.5L932.0 1067.5L932.7 1064.0L933.5 1071.0L934.2 1071.0L935.0 1074.5L935.7 1071.0L936.5 1064.0L937.2 1064.0L938.0 1064.0L938.7 1067.5L939.5 1067.5L940.2 1060.5
L941.0 1071.0L941.8 1071.0L942.5 1071.0L943.3 1071.0L944.0 1067.5L944.8 1064.0L945.5 1067.5L946.3 1067.5L947.0 1067.5L947.8 1067.5L948.5 1060.5L949.3 1071.0L950.0 1067.5
L950.8 1071.0L951.5 1071.0L952.3 1067.5L953.0 1064.0L953.8 1064.0L954.5 1071.0L955.3 1071.0L956.0 1071.0L956.8 1071.0L957.5 1071.0L958.3 1071.0L959.0 1071.0L959.8 1064.0
L960.5 1060.5L961.3 1057.0L962.0 1067.5L962.8 1067.5L963.5 1060.5L964.3 1060.5L965.0 1067.5L965.8 1067.5L966.5 1064.0L967.3 1071.0L968.0 1064.0L968.8 1060.5L969.5 1057.0
L970.3 1067.5L971.0 1060.5L971.8 1064.0L972.5 1060.5L973.3 1060.5L974.0 1064.0L974.8 1064.0L975.5 1053.5L976.3 1050.0L977.0 1050.0L977.8 1053.5L978.6 1046.5L979.3 1046.5
L980.1 1046.5L980.8 1046.5L981.6 1032.5L982.3 1032.5L983.1 1032.5L983.8 1036.0L984.6 1025.5L985.3 1018.5L986.1 1008.0L986.8 1011.5L987.6 1004.5L988.3 1001.0L989.1 1008.0
L989.8 994.0L990.6 994.0L991.3 987.0L992.1 980.0L992.8 976.5L993.6 969.5L994.3 983.5L995.1 973.0L995.8 987.0L996.6 983.5L997.3 990.5L998.1 987.0L998.8 994.0L999.6 994.0
L1000.3 1001.0L1001.1 1011.5L1001.8 1011.5L1002.6 1018.5L1003.3 1032.5L1004.1 1029.0L1004.8 1029.0L1005.6 1025.5L1006.3 1032.5L1007.1 1050.0L1007.8 1043.0L1008.6 1046.5
L1009.3 1053.5L1010.1 1053.5L1010.8 1053.5L1011.6 1046.5L1012.3 1043.0L1013.1 1046.5L1013.8 1050.0L1014.6 1060.5L1015.3 1053.5L1016.1 1057.0L1016.9 1064.0L1017.6 1064.0
L1018.4 1064.0L1019.1 1067.5L1019.9 1064.0L1020.6 1071.0L1021.4 1067.5L1022.1 1067.5L1022.9 1060.5L1023.6 1064.0L1024.4 1064.0L1025.1 1064.0L1025.9 1057.0L1026.6 1060.5
L1027.4 1067.5L1028.1 1064.0L1028.9 1057.0L1029.6 1060.5L1030.4 1064.0L1031.1 1053.5L1031.9 1057.0L1032.6 1053.5L1033.4 1057.0L1034.1 1053.5L1034.9 1057.0L1035.6 1050.0
L1036.4 1046.5L1037.1 1046.5L1037.9 1046.5L1038.6 1043.0L1039.4 1039.5L1040.1 1043.0L1040.9 1043.0L1041.6 1039.5L1042.4 1029.0L1043.1 1029.0L1043.9 1022.0L1044.6 1008.0
L1045.4 1022.0L1046.1 1008.0L1046.9 1011.5L1047.6 987.0L1048.4 976.5L1049.1 959.0L1049.9 927.5L1050.6 903.0L1051.4 885.5L1052.1 871.5L1052.9 878.5L1053.7 871.5L1054.4 868.0
L1055.2 896.0L1055.9 910.0L1056.7 917.0L1057.4 934.5L1058.2 966.0L1058.9 966.0L1059.7 987.0L1060.4 990.5L1061.2 1004.5L1061.9 1011.5L1062.7 1025.5L1063.4 1032.5L1064.2 1032.5
L1064.9 1043.0L1065.7 1043.0L1066.4 1046.5L1067.2 1050.0L1067.9 1050.0L1068.7 1057.0L1069.4 1053.5L1070.2 1064.0L1070.9 1060.5L1071.7 1060.5L1072.4 1067.5L1073.2 1067.5
L1073.9 1064.0L1074.7 1071.0L1075.4 1067.5L1076.2 1071.0L1076.9 1064.0L1077.7 1071.0L1078.4 1067.5L1079.2 1071.0L1079.9 1078.0L1080.7 1074.5L1081.4 1071.0L1082.2 1078.0
L1082.9 1074.5L1083.7 1081.5L1084.4 1067.5L1085.2 1078.0L1085.9 1071.0L1086.7 1071.0L1087.4 1067.5L1088.2 1078.0L1088.9 1074.5L1089.7 1071.0L1090.4 1071.0L1091.2 1078.0
L1092.0 1067.5L1092.7 1074.5L1093.5 1071.0L1094.2 1071.0L1095.0 1074.5L1095.7 1074.5L1096.5 1074.5L1097.2 1074.5L1098.0 1078.0L1098.7 1074.5L1099.5 1067.5L1100.2 1074.5
L1101.0 1078.0L1101.7 1081.5L1102.5 1081.5L1103.2 1078.0L1104.0 1074.5L1104.7 1085.0L1105.5 1074.5L1106.2 1078.0L1107.0 1071.0L1107.7 1078.0L1108.5 1071.0L1109.2 1078.0
L1110.0 1074.5L1110.7 1078.0L1111.5 1074.5L1112.2 1078.0L1113.0 1071.0L1113.7 1071.0L1114.5 1071.0L1115.2 1078.0L1116.0 1078.0L1116.7 1074.5L1117.5 1074.5L1118.2 1071.0
L1119.0 1067.5L1119.7 1074.5L1120.5 1071.0L1121.2 1071.0L1122.0 1071.0L1122.7 1067.5L1123.5 1067.5L1124.2 1067.5L1125.0 1064.0L1125.7 1060.5L1126.5 1060.5L1127.2 1057.0
L1128.0 1060.5L1128.8 1050.0L1129.5 1029.0L1130.3 1001.0L1131.0 983.5L1131.8 976.5L1132.5 973.0L1133.3 983.5L1134.0 1011.5L1134.8 1015.0L1135.5 1025.5L1136.3 1036.0L1137.0 1043.0
L1137.8 1043.0L1138.5 1050.0L1139.3 1057.0L1140.0 1060.5L1140.8 1071.0L1141.5 1067.5L1142.3 1071.0L1143.0 1071.0L1143.8 1074.5L1144.5 1067.5L1145.3 1071.0L1146.0 1067.5
L1146.8 1064.0L1147.5 1067.5L1148.3 1064.0L1149.0 1064.0L1149.8 1057.0L1150.5 1057.0L1151.3 1057.0L1152.0 1057.0L1152.8 1053.5L1153.5 1050.0L1154.3 1050.0L1155.0 1053.5
L1155.8 1050.0L1156.5 1050.0L1157.3 1053.5L1158.0 1050.0L1158.8 1053.5L1159.5 1057.0L1160.3 1053.5L1161.0 1053.5L1161.8 1057.0L1162.5 1057.0L1163.3 1064.0L1164.0 1064.0
L1164.8 1064.0L1165.5 1064.0L1166.3 1057.0L1167.1 1060.5L1167.8 1057.0L1168.6 1053.5L1169.3 1060.5L1170.1 1060.5L1170.8 1053.5L1171.6 1053.5L1172.3 1050.0L1173.1 1053.5
L1173.8 1053.5L1174.6 1046.5L1175.3 1043.0L1176.1 1036.0L1176.8 1029.0L1177.6 1022.0L1178.3 1025.5L1179.1 1022.0L1179.8 1022.0L1180.6 1032.5L1181.3 1025.5L1182.1 1032.5
L1182.8 1029.0L1183.6 1039.5L1184.3 1029.0L1185.1 1025.5L1185.8 1004.5L1186.6 994.0L1187.3 987.0L1188.1 973.0L1188.8 962.5L1189.6 955.5L1190.3 962.5L1191.1 959.0L1191.8 959.0
L1192.6 962.5L1193.3 976.5L1194.1 976.5L1194.8 976.5L1195.6 983.5L1196.3 980.0L1197.1 1008.0L1197.8 1011.5L1198.6 1008.0L1199.3 1018.5L1200.1 1029.0L1200.8 1032.5L1201.6 1032.5
L1202.3 1046.5L1203.1 1039.5L1203.9 1050.0L1204.6 1050.0L1205.4 1057.0L1206.1 1060.5L1206.9 1060.5L1207.6 1057.0L1208.4 1060.5L1209.1 1060.5L1209.9 1071.0L1210.6 1067.5
L1211.4 1064.0L1212.1 1074.5L1212.9 1074.5L1213.6 1067.5L1214.4 1067.5L1215.1 1078.0L1215.9 1074.5L1216.6 1078.0L1217.4 1067.5L1218.1 1074.5L1218.9 1071.0L1219.6 1071.0
L1220.4 1071.0L1221.1 1071.0L1221.9 1067.5L1222.6 1074.5L1223.4 1074.5L1224.1 1071.0L1224.9 1071.0L1225.6 1071.0L1226.4 1071.0L1227.1 1064.0L1227.9 1067.5L1228.6 1064.0
L1229.4 1067.5L1230.1 1071.0L1230.9 1067.5L1231.6 1067.5L1232.4 1067.5L1233.1 1071.0L1233.9 1071.0L1234.6 1064.0L1235.4 1064.0L1236.1 1064.0L1236.9 1064.0L1237.6 1060.5
L1238.4 1057.0L1239.1 1050.0L1239.9 1050.0L1240.6 1043.0L1241.4 1036.0L1242.2 1032.5L1242.9 1032.5L1243.7 1025.5L1244.4 1022.0L1245.2 1029.0L1245.9 1018.5L1246.7 1025.5
L1247.4 1018.5L1248.2 1022.0L1248.9 1029.0L1249.7 1025.5L1250.4 1029.0L1251.2 1036.0L1251.9 1043.0L1252.7 1039.5L1253.4 1043.0L1254.2 1053.5L1254.9 1057.0L1255.7 1057.0
L1256.4 1064.0L1257.2 1057.0L1257.9 1064.0L1258.7 1067.5L1259.4 1064.0L1260.2 1067.5L1260.9 1071.0L1261.7 1071.0L1262.4 1067.5L1263.2 1067.5L1263.9 1071.0L1264.7 1071.0
L1265.4 1074.5L1266.2 1071.0L1266.9 1074.5L1267.7 1074.5L1268.4 1071.0L1269.2 1067.5L1269.9 1071.0L1270.7 1071.0L1271.4 1074.5L1272.2 1078.0L1272.9 1074.5L1273.7 1078.0
L1274.4 1078.0L1275.2 1074.5L1275.9 1078.0L1276.7 1074.5L1277.4 1078.0L1278.2 1074.5L1279.0 1074.5L1279.7 1078.0L1280.5 1074.5L1281.2 1078.0L1282.0 1074.5L1282.7 1074.5
L1283.5 1071.0L1284.2 1074.5L1285.0 1074.5L1285.7 1078.0L1286.5 1071.0L1287.2 1071.0L1288.0 1071.0L1288.7 1074.5L1289.5 1081.5L1290.2 1074.5L1291.0 1078.0L1291.7 1078.0
L1292.5 1078.0L1293.2 1078.0L1294.0 1074.5L1294.7 1074.5L1295.5 1074.5L1296.2 1074.5L1297.0 1074.5L1297.7 1074.5L1298.5 1071.0L1299.2 1074.5L1300.0 1071.0L1300.7 1074.5
L1301.5 1071.0L1302.2 1071.0L1303.0 1071.0L1303.7 1071.0L1304.5 1067.5L1305.2 1064.0L1306.0 1067.5L1306.7 1067.5L1307.5 1064.0L1308.2 1060.5L1309.0 1060.5L1309.7 1057.0
L1310.5 1057.0L1311.2 1057.0L1312.0 1060.5L1312.7 1057.0L1313.5 1060.5L1314.2 1067.5L1315.0 1071.0L1315.7 1067.5L1316.5 1067.5L1317.3 1071.0L1318.0 1071.0L1318.8 1071.0
L1319.5 1064.0L1320.3 1067.5L1321.0 1071.0L1321.8 1067.5L1322.5 1060.5L1323.3 1060.5L1324.0 1064.0L1324.8 1060.5L1325.5 1057.0L1326.3 1060.5L1327.0 1057.0L1327.8 1053.5
L1328.5 1057.0L1329.3 1057.0L1330.0 1060.5L1330.8 1053.5L1331.5 1053.5L1332.3 1060.5L1333.0 1060.5L1333.8 1057.0L1334.5 1057.0L1335.3 1057.0L1336.0 1060.5L1336.8 1064.0
L1337.5 1064.0L1338.3 1064.0L1339.0 1064.0L1339.8 1067.5L1340.5 1067.5L1341.3 1067.5L1342.0 1071.0L1342.8 1074.5L1343.5 1071.0L1344.3 1078.0L1345.0 1078.0L1345.8 1078.0
L1346.5 1074.5L1347.3 1074.5L1348.0 1074.5L1348.8 1074.5L1349.5 1078.0L1350.3 1071.0L1351.0 1074.5L1351.8 1078.0L1352.5 1078.0L1353.3 1067.5L1354.1 1067.5L1354.8 1071.0
L1355.6 1071.0L1356.3 1071.0L1357.1 1071.0L1357.8 1074.5L1358.6 1078.0L1359.3 1071.0L1360.1 1074.5L1360.8 1074.5L1361.6 1071.0L1362.3 1074.5L1363.1 1081.5L1363.8 1074.5
L1364.6 1071.0L1365.3 1074.5L1366.1 1074.5L1366.8 1081.5L1367.6 1078.0L1368.3 1074.5L1369.1 1074.5L1369.8 1081.5L1370.6 1078.0L1371.3 1078.0L1372.1 1078.0L1372.8 1078.0
L1373.6 1078.0L1374.3 1078.0L1375.1 1081.5L1375.8 1078.0L1376.6 1081.5L1377.3 1078.0L1378.1 1078.0L1378.8 1078.0L1379.6 1081.5L1380.3 1081.5L1381.1 1081.5L1381.8 1081.5
L1382.6 1085.0L1383.3 1078.0L1384.1 1081.5L1384.8 1074.5L1385.6 1078.0L1386.3 1074.5L1387.1 1074.5L1387.8 1078.0L1388.6 1074.5L1389.3 1074.5L1390.1 1074.5L1390.8 1078.0
L1391.6 1074.5L1392.4 1074.5L1393.1 1071.0L1393.9 1067.5L1394.6 1067.5L1395.4 1064.0L1396.1 1067.5L1396.9 1067.5L1397.6 1067.5L1398.4 1071.0L1399.1 1067.5L1399.9 1064.0
L1400.6 1060.5L1401.4 1064.0L1402.1 1057.0L1402.9 1067.5L1403.6 1064.0L1404.4 1060.5L1405.1 1060.5L1405.9 1060.5L1406.6 1057.0L1407.4 1057.0L1408.1 1064.0L1408.9 1057.0
L1409.6 1060.5L1410.4 1064.0L1411.1 1064.0L1411.9 1057.0L1412.6 1064.0L1413.4 1064.0L1414.1 1064.0L1414.9 1067.5L1415.6 1057.0L1416.4 1067.5L1417.1 1057.0L1417.9 1060.5
L1418.6 1064.0L1419.4 1060.5L1420.1 1060.5L1420.9 1064.0L1421.6 1067.5L1422.4 1064.0L1423.1 1064.0L1423.9 1064.0L1424.6 1064.0L1425.4 1067.5L1426.1 1071.0L1426.9 1067.5
L1427.6 1064.0L1428.4 1064.0L1429.2 1064.0L1429.9 1067.5L1430.7 1067.5L1431.4 1071.0L1432.2 1067.5L1432.9 1074.5L1433.7 1074.5L1434.4 1067.5L1435.2 1074.5L1435.9 1071.0
L1436.7 1074.5L1437.4 1074.5L1438.2 1078.0L1438.9 1074.5L1439.7 1074.5L1440.4 1074.5L1441.2 1078.0L1441.9 1078.0L1442.7 1071.0L1443.4 1071.0L1444.2 1067.5L1444.9 1064.0
L1445.7 1071.0L1446.4 1060.5L1447.2 1057.0L1447.9 1064.0L1448.7 1064.0L1449.4 1060.5L1450.2 1064.0L1450.9 1067.5L1451.7 1064.0L1452.4 1064.0L1453.2 1060.5L1453.9 1060.5
L1454.7 1064.0L1455.4 1060.5L1456.2 1057.0L1456.9 1060.5L1457.7 1064.0L1458.4 1060.5L1459.2 1057.0L1459.9 1060.5L1460.7 1064.0L1461.4 1064.0L1462.2 1064.0L1462.9 1067.5
L1463.7 1060.5L1464.4 1071.0L1465.2 1067.5L1465.9 1067.5L1466.7 1071.0L1467.5 1071.0L1468.2 1074.5L1469.0 1074.5L1469.7 1078.0L1470.5 1078.0L1471.2 1078.0L1472.0 1078.0
L1472.7 1071.0L1473.5 1078.0L1474.2 1074.5L1475.0 1074.5L1475.7 1078.0L1476.5 1074.5L1477.2 1074.5L1478.0 1074.5L1478.7 1074.5L1479.5 1071.0L1480.2 1074.5L1481.0 1074.5
L1481.7 1074.5L1482.5 1071.0L1483.2 1074.5L1484.0 1074.5L1484.7 1078.0L1485.5 1078.0L1486.2 1074.5L1487.0 1078.0L1487.7 1074.5L1488.5 1078.0L1489.2 1074.5L1490.0 1078.0
L1490.7 1078.0L1491.5 1074.5L1492.2 1074.5L1493.0 1074.5L1493.7 1078.0L1494.5 1071.0L1495.2 1074.5L1496.0 1074.5L1496.7 1071.0L1497.5 1071.0L1498.2 1071.0L1499.0 1074.5
L1499.7 1067.5L1500.5 1067.5L1501.2 1067.5L1502.0 1071.0L1502.7 1074.5L1503.5 1074.5"/>
</g>
<rect x="151.5" y="23.5" width="1502" height="1096" fill="none" stroke="#000" stroke-width="5"/>
<g fill="#000"><rect x="299.2" y="1107.0" width="5" height="12.5" rx="1.2"/><rect x="449.4" y="1096.5" width="5" height="23.0" rx="1.2"/><rect x="599.6" y="1107.0" width="5" height="12.5" rx="1.2"/><rect x="749.8" y="1096.5" width="5" height="23.0" rx="1.2"/><rect x="900.0" y="1107.0" width="5" height="12.5" rx="1.2"/><rect x="1050.2" y="1096.5" width="5" height="23.0" rx="1.2"/><rect x="1200.4" y="1107.0" width="5" height="12.5" rx="1.2"/><rect x="1350.6" y="1096.5" width="5" height="23.0" rx="1.2"/><rect x="1500.8" y="1107.0" width="5" height="12.5" rx="1.2"/></g>
<g font-family="'Liberation Sans', Arial, sans-serif" font-size="45.5" text-anchor="middle" fill="#000">
<text x="151.0" y="1178">0</text>
<text x="451.4" y="1178">20</text>
<text x="751.8" y="1178">40</text>
<text x="1052.2" y="1178">60</text>
<text x="1352.6" y="1178">80</text>
<text x="1651.5" y="1178">100</text>
</g>
<g font-family="'Liberation Sans', Arial, sans-serif" fill="#000">
<text x="891.7" y="1272.9" font-size="54.7" text-anchor="middle">2 Theta (degrees)</text>
<text transform="translate(50.1 569.8) rotate(-90)" font-size="54.7" text-anchor="middle">Intensity (a.u.)</text>
<text x="192.8" y="801.3" font-size="54">a</text>
<text x="189.4" y="420.5" font-size="54.5">b</text>
<text transform="translate(362.4 332.5) rotate(-90)" font-size="39.5" letter-spacing="0.4" text-anchor="middle">(110)</text>
<text transform="translate(438.3 327.9) rotate(-90)" font-size="39.5" letter-spacing="0.4" text-anchor="middle">(200)</text>
<text transform="translate(594.3 198.7) rotate(-90)" font-size="39.5" letter-spacing="0.4" text-anchor="middle">(310)</text>
<text transform="translate(729.0 75.9) rotate(-90)" font-size="39.5" letter-spacing="0.4" text-anchor="middle">(211)</text>
<text transform="translate(800.3 373.1) rotate(-90)" font-size="39.5" letter-spacing="0.4" text-anchor="middle">(301)</text>
<text transform="translate(918.0 358.6) rotate(-90)" font-size="39.5" letter-spacing="0.4" text-anchor="middle">(411)</text>
<text transform="translate(1008.6 436.7) rotate(-90)" font-size="39.5" letter-spacing="0.4" text-anchor="middle">(600)</text>
<text transform="translate(1068.0 351.7) rotate(-90)" font-size="39.5" letter-spacing="0.4" text-anchor="middle">(521)</text>
<text transform="translate(1140.5 396.2) rotate(-90)" font-size="39.5" letter-spacing="0.4" text-anchor="middle">(002)</text>
<text transform="translate(1205.4 417.6) rotate(-90)" font-size="39.5" letter-spacing="0.4" text-anchor="middle">(541)</text>
<text transform="translate(1264.0 463.7) rotate(-90)" font-size="39.5" letter-spacing="0.4" text-anchor="middle">(312)</text>
</g>
</svg>
</body>
</html>
